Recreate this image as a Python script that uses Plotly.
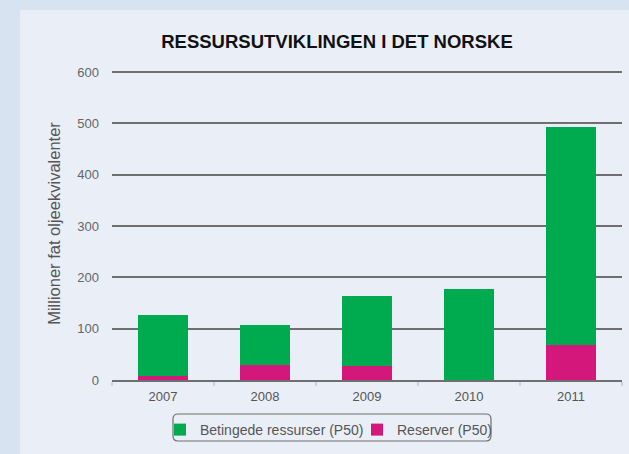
import plotly.graph_objects as go

years = ["2007", "2008", "2009", "2010", "2011"]
reserver = [8, 30, 28, 0, 68]
betingede = [119, 78, 136, 177, 424]
y_ticks = [0, 100, 200, 300, 400, 500, 600]

GREEN = "#00AA4F"
MAGENTA = "#D4177A"
W, H = 629, 454
L, R, T, B = 112, 7, 67, 74
PW, PH = W - L - R, H - T - B
Y_TOP = 600 * PH / 308  # keep 600 at pixel 72 while leaving room for its gridline


def px_x(x):
    return (x - L) / PW


def px_y(y):
    return (H - B - y) / PH


fig = go.Figure()
fig.add_trace(go.Bar(x=years, y=reserver, name="Reserver (P50)",
                     marker=dict(color=MAGENTA, line=dict(width=0)), legendrank=2))
fig.add_trace(go.Bar(x=years, y=betingede, name="Betingede ressurser (P50)",
                     marker=dict(color=GREEN, line=dict(width=0)), legendrank=1))

# inner panel background
fig.add_shape(type="rect", xref="paper", yref="paper",
              x0=px_x(20), x1=px_x(640), y0=px_y(460), y1=px_y(10),
              fillcolor="#EAEFF7", line=dict(width=0), layer="below")

# rounded legend border
lx0, lx1, ly0, ly1, r = px_x(173), px_x(491), px_y(441), px_y(414), 5
rx, ry = r / PW, r / PH
path = (f"M {lx0+rx},{ly1} L {lx1-rx},{ly1} Q {lx1},{ly1} {lx1},{ly1-ry} "
        f"L {lx1},{ly0+ry} Q {lx1},{ly0} {lx1-rx},{ly0} L {lx0+rx},{ly0} "
        f"Q {lx0},{ly0} {lx0},{ly0+ry} L {lx0},{ly1-ry} Q {lx0},{ly1} {lx0+rx},{ly1} Z")
fig.add_shape(type="path", xref="paper", yref="paper", path=path,
              line=dict(color="#6E6E6E", width=1.2), fillcolor="rgba(0,0,0,0)")

fig.update_layout(
    width=W, height=H,
    margin=dict(l=L, r=R, t=T, b=B),
    barmode="stack", bargap=0.515,
    paper_bgcolor="#D8E3F1", plot_bgcolor="rgba(0,0,0,0)",
    font=dict(family="Liberation Sans, Arial, sans-serif", color="#555555", size=13),
    title=dict(text="<b>RESSURSUTVIKLINGEN I DET NORSKE</b>",
               x=337 / W, xanchor="center", y=1 - 42 / H, yanchor="middle",
               yref="container", xref="container",
               font=dict(size=18.5, color="#111111", family="Liberation Sans, Arial, sans-serif")),
    showlegend=True,
    legend=dict(orientation="h", traceorder="normal", x=px_x(160), xanchor="left",
                y=px_y(414), yanchor="top", entrywidth=152, entrywidthmode="pixels",
                font=dict(size=14, color="#555555"), bgcolor="rgba(0,0,0,0)",
                borderwidth=0, itemwidth=30, tracegroupgap=0),
    xaxis=dict(showgrid=False, showline=True, linecolor="#6F6F6F", linewidth=1.6,
               ticks="outside", tickson="boundaries", ticklen=4, tickcolor="#C5D3E6",
               tickwidth=2, ticklabelstandoff=4, tickfont=dict(size=13, color="#555555")),
    yaxis=dict(range=[0, Y_TOP], tickvals=y_ticks, showgrid=True, gridcolor="#6F6F6F",
               gridwidth=1.6, zeroline=False, showline=False,
               ticklabelstandoff=12, tickfont=dict(size=13, color="#666666"),
               title=dict(text="Millioner fat oljeekvivalenter", standoff=12,
                          font=dict(size=16.5, color="#555555"))),
)

fig.write_html("out.html", config={"displayModeBar": False},
               post_script="document.body.style.margin='0';")
